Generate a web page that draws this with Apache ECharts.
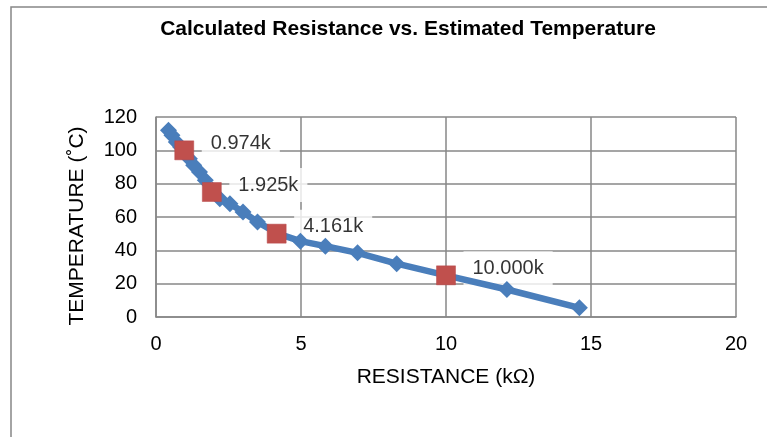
<!DOCTYPE html>
<html>
<head>
<meta charset="utf-8" />
<title>Calculated Resistance vs. Estimated Temperature</title>
<script src="https://cdn.jsdelivr.net/npm/echarts@6/dist/echarts.min.js"></script>
<style>
  html, body { margin: 0; padding: 0; background: #fff; }
  #main { width: 767px; height: 437px; }
</style>
</head>
<body>
<div id="main"></div>
<script>
// calculated resistance (kOhm) vs estimated temperature (C)
var calcRes  = [0.43, 0.55, 0.7, 0.85, 1.0, 1.15, 1.3, 1.5, 1.7, 1.95, 2.2, 2.55, 3.0, 3.5, 4.2, 4.98, 5.84, 6.95, 8.3, 10.0, 12.1, 14.6];
var calcTemp = [112, 109, 105, 102, 99, 95, 91, 87, 82, 76, 71, 68, 63, 57, 50, 45.5, 42.5, 38.5, 32, 25, 16.5, 5.5];

// reference points
var refRes    = [0.974, 1.925, 4.161, 10.0];
var refTemp   = [100, 75, 50, 25];
var refLabels = ['0.974k', '1.925k', '4.161k', '10.000k'];

var FONT = 'Liberation Sans, Arial, sans-serif';
var GRID_COLOR = '#878787';

var chart = echarts.init(document.getElementById('main'));

var blueData = calcRes.map(function (r, i) { return [r, calcTemp[i]]; });
var redData = refRes.map(function (r, i) { return [r, refTemp[i]]; });

var option = {
  backgroundColor: '#fff',
  animation: false,
  title: {
    text: 'Calculated Resistance vs. Estimated Temperature',
    left: 403,
    top: 14,
    textAlign: 'center',
    textStyle: { fontFamily: FONT, fontSize: 21, fontWeight: 'bold', color: '#000' }
  },
  graphic: [{
    type: 'rect',
    shape: { x: 11, y: 7, width: 800, height: 500 },
    style: { fill: 'none', stroke: GRID_COLOR, lineWidth: 1.5 },
    silent: true
  }],
  grid: { left: 156, right: 31, top: 117, bottom: 120 },
  xAxis: {
    type: 'value',
    min: 0, max: 20, interval: 5,
    name: 'RESISTANCE (kΩ)',
    nameLocation: 'middle',
    nameGap: 50,
    nameTextStyle: { fontFamily: FONT, fontSize: 21, color: '#000' },
    axisLine: { show: true, lineStyle: { color: GRID_COLOR, width: 1.5 } },
    axisTick: { show: false },
    axisLabel: { fontFamily: FONT, fontSize: 20, color: '#000', margin: 17 },
    splitLine: { show: true, lineStyle: { color: GRID_COLOR, width: 1.5 } }
  },
  yAxis: {
    type: 'value',
    min: 0, max: 120, interval: 20,
    name: 'TEMPERATURE (˚C)',
    nameLocation: 'middle',
    nameGap: 68,
    nameTextStyle: { fontFamily: FONT, fontSize: 21, color: '#000', padding: [0, 18, 0, 0] },
    axisLine: { show: true, lineStyle: { color: GRID_COLOR, width: 1.5 } },
    axisTick: { show: false },
    axisLabel: { fontFamily: FONT, fontSize: 20, color: '#000', margin: 19 },
    splitLine: { show: true, lineStyle: { color: GRID_COLOR, width: 1.5 } }
  },
  series: [
    {
      // labels only, drawn beneath the curve so the white boxes hide grid lines only
      type: 'scatter',
      data: redData,
      symbol: 'rect',
      symbolSize: 19,
      itemStyle: { color: 'rgba(0,0,0,0)' },
      z: 1,
      silent: true,
      label: {
        show: true,
        position: 'right',
        distance: 8,
        offset: [0, -7],
        formatter: function (p) { return refLabels[p.dataIndex]; },
        fontFamily: FONT,
        fontSize: 20,
        color: '#000',
        backgroundColor: '#fff',
        padding: [7, 9]
      }
    },
    {
      type: 'line',
      data: blueData,
      symbol: 'diamond',
      symbolSize: 17,
      lineStyle: { color: '#4A7EBB', width: 6.5 },
      itemStyle: { color: '#4A7EBB' },
      z: 2
    },
    {
      type: 'scatter',
      data: redData,
      symbol: 'rect',
      symbolSize: 19,
      itemStyle: { color: '#C0504D', opacity: 1, borderColor: '#B9484A', borderWidth: 0.5 },
      z: 3
    }
  ]
};

chart.setOption(option);
</script>
</body>
</html>
